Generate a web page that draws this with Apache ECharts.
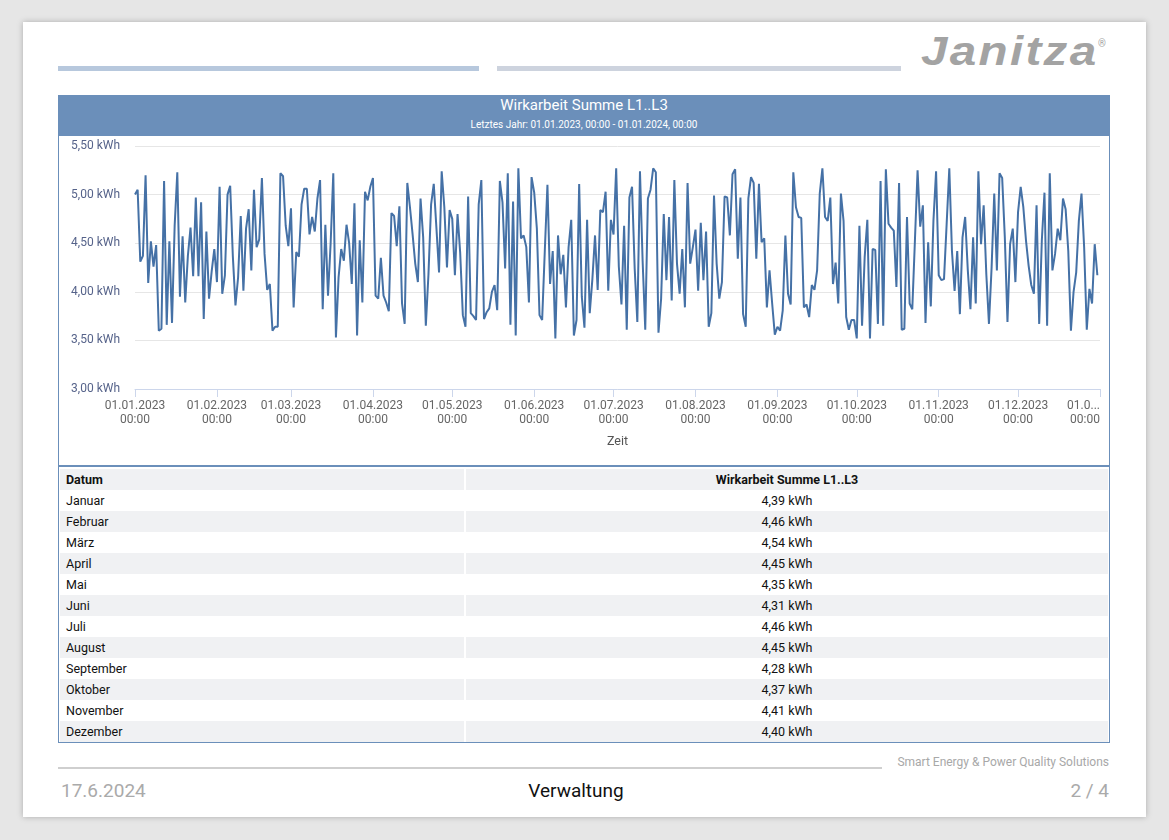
<!DOCTYPE html>
<html>
<head>
<meta charset="utf-8">
<script src="https://cdn.jsdelivr.net/npm/echarts@6/dist/echarts.min.js"></script>
<style>
  html,body{margin:0;padding:0;}
  body{width:1169px;height:840px;background:#e6e6e6;position:relative;font-family:Roboto,"Noto Sans",Arial,sans-serif;overflow:hidden;}
  .page{position:absolute;left:23px;top:22px;width:1123px;height:795px;background:#fff;box-shadow:0 0 6px rgba(0,0,0,0.25);}
  .abs{position:absolute;}
  .bar1{left:58px;top:66px;width:421px;height:5px;background:#b7c8dd;}
  .bar2{left:497px;top:66px;width:404px;height:5px;background:#cdd3de;}
  .logo{left:921px;top:27px;font-family:"Liberation Sans",Arial,sans-serif;font-size:41px;font-weight:bold;font-style:italic;color:#a3a3a3;letter-spacing:2px;line-height:48px;transform:scaleX(1.16);transform-origin:left top;white-space:nowrap;}
  .reg{left:1098px;top:38px;font-size:10px;color:#a3a3a3;}
  .chead{left:58px;top:95px;width:1052px;height:41px;background:#6b8fba;color:#fff;text-align:center;}
  .ctitle{position:absolute;left:0;right:0;top:1px;font-size:15px;line-height:18px;}
  .csub{position:absolute;left:0;right:0;top:24px;font-size:10px;line-height:12px;}
  .cbox{left:58px;top:136px;width:1050px;height:329px;border-left:1px solid #6b8fba;border-right:1px solid #6b8fba;border-bottom:2px solid #6b8fba;}
  #chart{left:59px;top:136px;width:1050px;height:330px;}
  .tbox{left:58px;top:467px;width:1050px;height:275px;border-left:1px solid #6b8fba;border-right:1px solid #6b8fba;border-bottom:1px solid #6b8fba;}
  table{position:absolute;left:1px;top:2px;width:1048px;border-collapse:collapse;font-size:12.5px;color:#111;}
  td{height:21px;padding:0;line-height:21px;}
  td.c1{width:398px;padding-left:6px;border-right:2px solid #fff;}
  td.c2{text-align:center;}
  tr.g td{background:#f0f1f3;}
  tr.h td{font-weight:bold;}
  .fline{left:58px;top:767px;width:824px;height:2px;background:#cfcfcf;}
  .fslogan{left:800px;width:309px;top:755px;text-align:right;font-size:12px;color:#a8a8a8;}
  .fdate{left:61px;top:779px;font-size:19px;color:#aaa;}
  .fmid{left:376px;width:400px;top:779px;font-size:19px;color:#111;text-align:center;}
  .fpage{left:909px;width:200px;top:779px;font-size:19px;color:#aaa;text-align:right;}
</style>
</head>
<body>
<div class="page"></div>
<div class="abs bar1"></div>
<div class="abs bar2"></div>
<div class="abs logo">Janitza</div>
<div class="abs reg">®</div>
<div class="abs chead"><div class="ctitle">Wirkarbeit Summe L1..L3</div><div class="csub">Letztes Jahr: 01.01.2023, 00:00 - 01.01.2024, 00:00</div></div>
<div class="abs cbox"></div>
<div class="abs" id="chart"></div>
<div class="abs tbox"><table id="tbl"></table></div>
<div class="abs fline"></div>
<div class="abs fslogan">Smart Energy &amp; Power Quality Solutions</div>
<div class="abs fdate">17.6.2024</div>
<div class="abs fmid">Verwaltung</div>
<div class="abs fpage">2 / 4</div>
<script>
// Daily values 01.01.2023 .. 31.12.2023 (kWh)
const dailyValues = [
5.00,5.05,4.31,4.37,5.20,4.09,4.52,4.26,4.48,3.60,3.62,5.14,3.66,4.52,3.68,4.68,5.23,3.95,4.57,3.89,
4.37,4.66,4.16,4.97,4.16,4.92,3.72,4.62,3.93,4.21,4.44,4.10,5.08,3.98,4.17,5.00,5.09,4.37,3.86,4.15,
4.78,4.01,4.65,4.85,4.22,5.05,4.46,4.54,5.17,4.39,4.02,4.08,3.60,3.64,3.64,5.22,5.19,4.68,4.47,4.86,
3.84,4.41,4.36,4.90,5.06,5.06,4.59,4.77,4.62,4.96,5.15,3.82,4.69,3.96,4.50,5.22,3.53,4.15,4.44,4.32,
4.69,4.50,4.08,4.91,3.55,4.53,3.89,5.03,4.94,5.08,5.17,3.96,3.93,4.35,3.96,3.89,3.80,4.81,4.78,4.47,
4.88,3.88,3.67,5.12,4.87,4.59,4.29,4.10,4.96,4.56,3.65,4.18,4.90,5.11,4.66,4.20,5.24,4.87,4.25,4.84,
4.75,4.17,4.80,4.40,3.76,3.64,4.98,3.78,3.75,3.71,4.90,5.15,3.72,3.79,3.83,4.00,4.07,3.81,5.14,4.92,
4.24,5.22,3.66,4.93,3.55,5.27,4.55,4.58,4.46,3.89,5.18,5.02,4.65,3.76,3.71,4.42,5.10,4.08,4.42,3.52,
4.58,4.18,4.38,3.84,4.46,4.74,3.55,3.71,5.11,3.95,3.63,4.74,3.78,4.13,4.58,4.02,4.84,4.82,5.03,4.01,
4.74,4.59,5.27,4.26,3.87,4.68,3.61,4.97,5.08,4.24,3.69,5.24,4.32,3.61,4.96,5.05,5.27,5.23,3.58,3.93,
4.80,4.12,4.77,3.91,5.15,4.29,3.98,4.44,3.84,5.12,4.29,4.46,4.64,4.01,4.71,4.12,4.62,3.64,3.78,4.99,
4.29,3.93,4.10,4.98,4.97,4.58,5.21,5.26,4.34,4.97,3.77,3.64,4.96,5.18,5.12,4.34,5.11,4.51,4.55,3.84,
4.22,3.88,3.56,3.64,3.60,3.81,4.58,3.98,3.87,5.23,4.87,4.77,4.76,3.84,3.87,3.74,4.07,4.02,4.22,5.01,
5.27,4.77,4.73,4.97,4.08,4.30,3.88,5.01,4.73,3.74,3.61,3.71,3.71,3.52,4.68,3.65,4.36,4.74,3.52,4.44,
4.43,3.67,5.14,3.65,5.26,4.70,4.66,4.63,4.05,5.12,3.61,3.62,4.77,3.88,3.82,4.53,5.25,4.67,4.89,3.68,
4.51,3.85,4.73,5.24,4.17,4.12,4.13,4.70,5.27,4.42,4.01,4.42,3.77,4.56,4.77,4.22,3.82,4.56,3.88,5.24,
4.49,4.89,4.18,3.67,4.25,5.01,4.22,5.22,5.17,4.56,3.69,4.49,4.65,4.10,4.82,5.08,4.87,4.53,4.27,4.07,
3.98,4.89,3.67,4.53,5.02,3.65,5.22,4.22,4.39,4.65,4.53,4.96,4.85,4.42,3.60,4.00,4.20,4.73,5.01,4.46,
3.61,4.03,3.88,4.49,4.17
];
const startDate = [2023, 0, 1];
const xTickMonths = [0,1,2,3,4,5,6,7,8,9,10,11,12]; // month offsets from Jan 2023
const yTicks = [3.0, 3.5, 4.0, 4.5, 5.0, 5.5];
const monthNames = ['Januar','Februar','März','April','Mai','Juni','Juli','August','September','Oktober','November','Dezember'];
const monthValues = [4.39,4.46,4.54,4.45,4.35,4.31,4.46,4.45,4.28,4.37,4.41,4.40];
const tableHeader = ['Datum','Wirkarbeit Summe L1..L3'];

// table
const tbl = document.getElementById('tbl');
let html = '<tr class="g h"><td class="c1">'+tableHeader[0]+'</td><td class="c2">'+tableHeader[1]+'</td></tr>';
monthNames.forEach((m,i)=>{
  const cls = (i%2===1)?'g':'';
  html += '<tr class="'+cls+'"><td class="c1">'+m+'</td><td class="c2">'+monthValues[i].toFixed(2).replace('.',',')+' kWh</td></tr>';
});
tbl.innerHTML = html;

// chart (x = timestamp on a value axis, month-start ticks)
const seriesData = dailyValues.map((v,i)=>[new Date(startDate[0], startDate[1], startDate[2]+i).getTime(), v]);
const tickValues = xTickMonths.map(m=>new Date(2023, m, 1).getTime());
const xMin = tickValues[0], xMax = tickValues[tickValues.length-1];
const pad = n => (n<10?'0':'')+n;
const chart = echarts.init(document.getElementById('chart'), null, {renderer:'canvas'});
chart.setOption({
  animation:false,
  grid:{left:76,right:9,top:10,bottom:77,containLabel:false,outerBoundsMode:'none'},
  xAxis:{
    type:'value', min:xMin, max:xMax,
    name:'Zeit', nameLocation:'middle', nameGap:46,
    nameTextStyle:{color:'#555',fontSize:12.5,fontFamily:'Roboto'},
    axisLine:{show:true,lineStyle:{color:'#ccd6eb',width:1}},
    axisTick:{show:true,length:8,lineStyle:{color:'#ccd6eb'},customValues:tickValues},
    splitLine:{show:false},
    axisLabel:{
      customValues:tickValues, color:'#666', fontSize:12, lineHeight:14, margin:10, fontFamily:'Roboto',
      showMinLabel:true, showMaxLabel:true, hideOverlap:false, alignMaxLabel:'right',
      formatter:function(v){
        const d = new Date(v);
        if (v >= xMax) return '01.0...\n00:00';
        return pad(d.getDate())+'.'+pad(d.getMonth()+1)+'.'+d.getFullYear()+'\n'+pad(d.getHours())+':'+pad(d.getMinutes());
      }
    }
  },
  yAxis:{
    type:'value', min:yTicks[0], max:yTicks[yTicks.length-1], interval:0.5,
    axisLine:{show:false}, axisTick:{show:false},
    splitLine:{show:true,lineStyle:{color:'#e6e6e6',width:1}},
    axisLabel:{color:'#56638a',fontSize:12,margin:15,fontFamily:'Roboto',
      formatter:v=>v.toFixed(2).replace('.',',')+' kWh'}
  },
  series:[{
    type:'line', data:seriesData, showSymbol:false, symbol:'none',
    lineStyle:{color:'#4571a6',width:2}, itemStyle:{color:'#4571a6'}
  }]
});
</script>
</body>
</html>
